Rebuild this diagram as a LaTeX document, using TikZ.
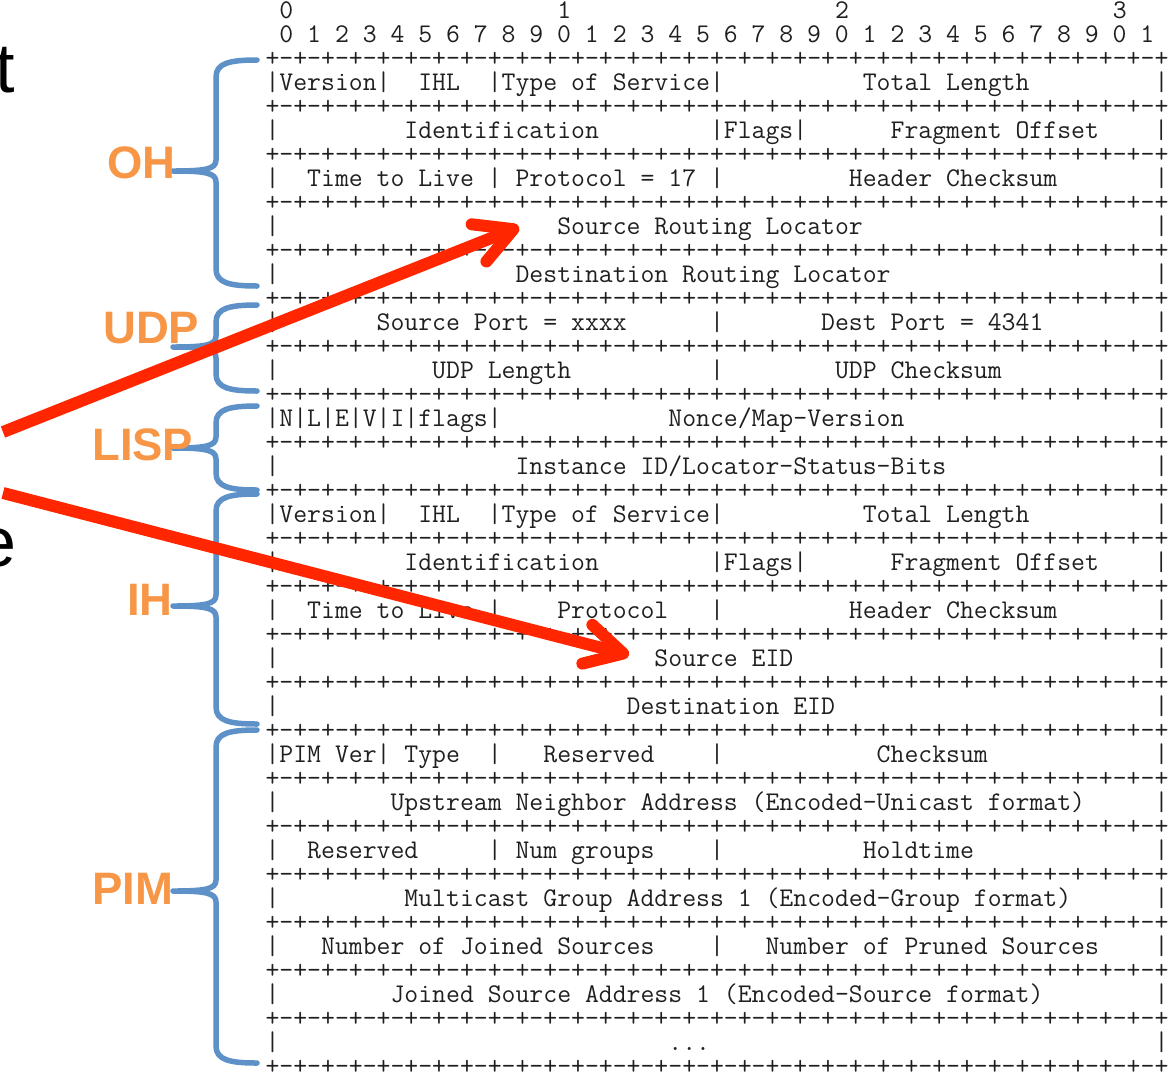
\documentclass[tikz,border=0pt]{standalone}
\usepackage{fontspec}
\usetikzlibrary{arrows.meta}
\newfontfamily\labfont{Liberation Sans}
\definecolor{braceblue}{RGB}{93,145,200}
\definecolor{laborange}{RGB}{247,150,70}
\definecolor{arrowred}{RGB}{255,38,0}
\newlength\chw
\settowidth\chw{\fontsize{20pt}{20pt}\selectfont\ttfamily +}
\pgfmathsetmacro\asciisize{20*13.89/\chw}
\newlength\cw
\setlength\cw{13.89pt}
\newcommand\gap[1]{\kern#1\cw}
\newcommand\seprow{+-+-+-+-+-+-+-+-+-+-+-+-+-+-+-+-+-+-+-+-+-+-+-+-+-+-+-+-+-+-+-+-+}
\newcommand\hdrA{\gap{1}0\gap{19}1\gap{19}2\gap{19}3}
\newcommand\hdrB{\gap{1}0 1 2 3 4 5 6 7 8 9 0 1 2 3 4 5 6 7 8 9 0 1 2 3 4 5 6 7 8 9 0 1}
\newcommand\pkA{|Version|\gap{2}IHL\gap{2}|Type of Service|\gap{10}Total Length\gap{9}|}
\newcommand\pkB{|\gap{9}Identification\gap{8}|Flags|\gap{6}Fragment Offset\gap{4}|}
\newcommand\pkC{|\gap{2}Time to Live | Protocol = 17 |\gap{9}Header Checksum\gap{7}|}
\newcommand\pkD{|\gap{20}Source Routing Locator\gap{21}|}
\newcommand\pkE{|\gap{17}Destination Routing Locator\gap{19}|}
\newcommand\pkF{|\gap{7}Source Port = xxxx\gap{6}|\gap{7}Dest Port = 4341\gap{8}|}
\newcommand\pkG{|\gap{11}UDP Length\gap{10}|\gap{8}UDP Checksum\gap{11}|}
\newcommand\pkH{|N|L|E|V|I|flags|\gap{12}Nonce/Map-Version\gap{18}|}
\newcommand\pkI{|\gap{17}Instance ID/Locator-Status-Bits\gap{15}|}
\newcommand\pkL{|\gap{2}Time to Live |\gap{4}Protocol\gap{3}|\gap{9}Header Checksum\gap{7}|}
\newcommand\pkM{|\gap{27}Source EID\gap{26}|}
\newcommand\pkN{|\gap{25}Destination EID\gap{23}|}
\newcommand\pkO{|PIM Ver| Type\gap{2}|\gap{3}Reserved\gap{4}|\gap{11}Checksum\gap{12}|}
\newcommand\pkP{|\gap{8}Upstream Neighbor Address (Encoded-Unicast format)\gap{5}|}
\newcommand\pkQ{|\gap{2}Reserved\gap{5}| Num groups\gap{4}|\gap{10}Holdtime\gap{13}|}
\newcommand\pkR{|\gap{9}Multicast Group Address 1 (Encoded-Group format)\gap{6}|}
\newcommand\pkS{|\gap{3}Number of Joined Sources\gap{4}|\gap{3}Number of Pruned Sources\gap{4}|}
\newcommand\pkT{|\gap{8}Joined Source Address 1 (Encoded-Source format)\gap{8}|}
\newcommand\pkU{|\gap{28}...\gap{32}|}
\newcommand\drawbrace[3]{%
\draw[brc] (257,#1) .. controls (230,#1) and (216,{#1+3}) .. (216,{#1+17})
  -- (216,{#2-11}) .. controls (216,{#2-2}) and (206,#2) .. (173,#2)
  .. controls (206,#2) and (216,{#2+2}) .. (216,{#2+11})
  -- (216,{#3-17}) .. controls (216,{#3-3}) and (230,#3) .. (257,#3);}
\begin{document}
\begin{tikzpicture}[x=1pt,y=-1pt,
  ascii/.style={font=\fontsize{\asciisize pt}{\asciisize pt}\selectfont\ttfamily\frenchspacing,
    text=black!88, anchor=base west, inner sep=0pt, outer sep=0pt,
    text height=15pt, text depth=4pt},
  lbl/.style={font=\fontsize{45.5pt}{45.5pt}\selectfont\labfont\bfseries, text=laborange,
    anchor=west, inner sep=0pt},
  bigtxt/.style={font=\fontsize{70pt}{70pt}\selectfont\labfont, anchor=base east, inner sep=0pt},
  brc/.style={draw=braceblue, line width=5.5pt, line cap=round, line join=round},
  redarrow/.style={draw=arrowred, line width=12pt,
    -{Straight Barb[round,length=37pt,width=40pt]}}]
\useasboundingbox (0,0) rectangle (1169,1072);
\clip (0,0) rectangle (1169,1072);
% packet header text
\node[ascii] (h0) at (265.56,18.5) {\hdrA};
\node[ascii] (h1) at (265.56,42.5) {\hdrB};
\foreach \k in {0,...,21} \node[ascii] (s\k) at (265.56,{66.5+48*\k}) {\seprow};
\node[ascii] (r1) at (265.56,90.5) {\pkA};
\node[ascii] (r2) at (265.56,138.5) {\pkB};
\node[ascii] (r3) at (265.56,186.5) {\pkC};
\node[ascii] (r4) at (265.56,234.5) {\pkD};
\node[ascii] (r5) at (265.56,282.5) {\pkE};
\node[ascii] (r6) at (265.56,330.5) {\pkF};
\node[ascii] (r7) at (265.56,378.5) {\pkG};
\node[ascii] (r8) at (265.56,426.5) {\pkH};
\node[ascii] (r9) at (265.56,474.5) {\pkI};
\node[ascii] (r10) at (265.56,522.5) {\pkA};
\node[ascii] (r11) at (265.56,570.5) {\pkB};
\node[ascii] (r12) at (265.56,618.5) {\pkL};
\node[ascii] (r13) at (265.56,666.5) {\pkM};
\node[ascii] (r14) at (265.56,714.5) {\pkN};
\node[ascii] (r15) at (265.56,762.5) {\pkO};
\node[ascii] (r16) at (265.56,810.5) {\pkP};
\node[ascii] (r17) at (265.56,858.5) {\pkQ};
\node[ascii] (r18) at (265.56,906.5) {\pkR};
\node[ascii] (r19) at (265.56,954.5) {\pkS};
\node[ascii] (r20) at (265.56,1002.5) {\pkT};
\node[ascii] (r21) at (265.56,1050.5) {\pkU};
% braces
\drawbrace{60}{171}{286}
\drawbrace{305}{347}{391}
\drawbrace{406}{448}{490}
\drawbrace{494}{606}{724}
\drawbrace{730}{891}{1063}
% labels
\node[lbl] (lOH) at (107,163) {OH};
\node[lbl] (lUDP) at (103,328) {UDP};
\node[lbl] (lLISP) at (92,445) {LISP};
\node[lbl] (lIH) at (127,600) {IH};
\node[lbl] (lPIM) at (92,889) {PIM};
% cut-off slide text at left edge
\node[bigtxt] (bt) at (15,92) {t};
\node[bigtxt] (be) at (17,566) {e};
% red arrows
\coordinate (a1s) at (3,432);
\coordinate (a1e) at (519,227);
\coordinate (a2s) at (3,493);
\coordinate (a2e) at (629,655);
\draw[redarrow] (a1s) -- (a1e);
\draw[redarrow] (a2s) -- (a2e);
\end{tikzpicture}
\end{document}
